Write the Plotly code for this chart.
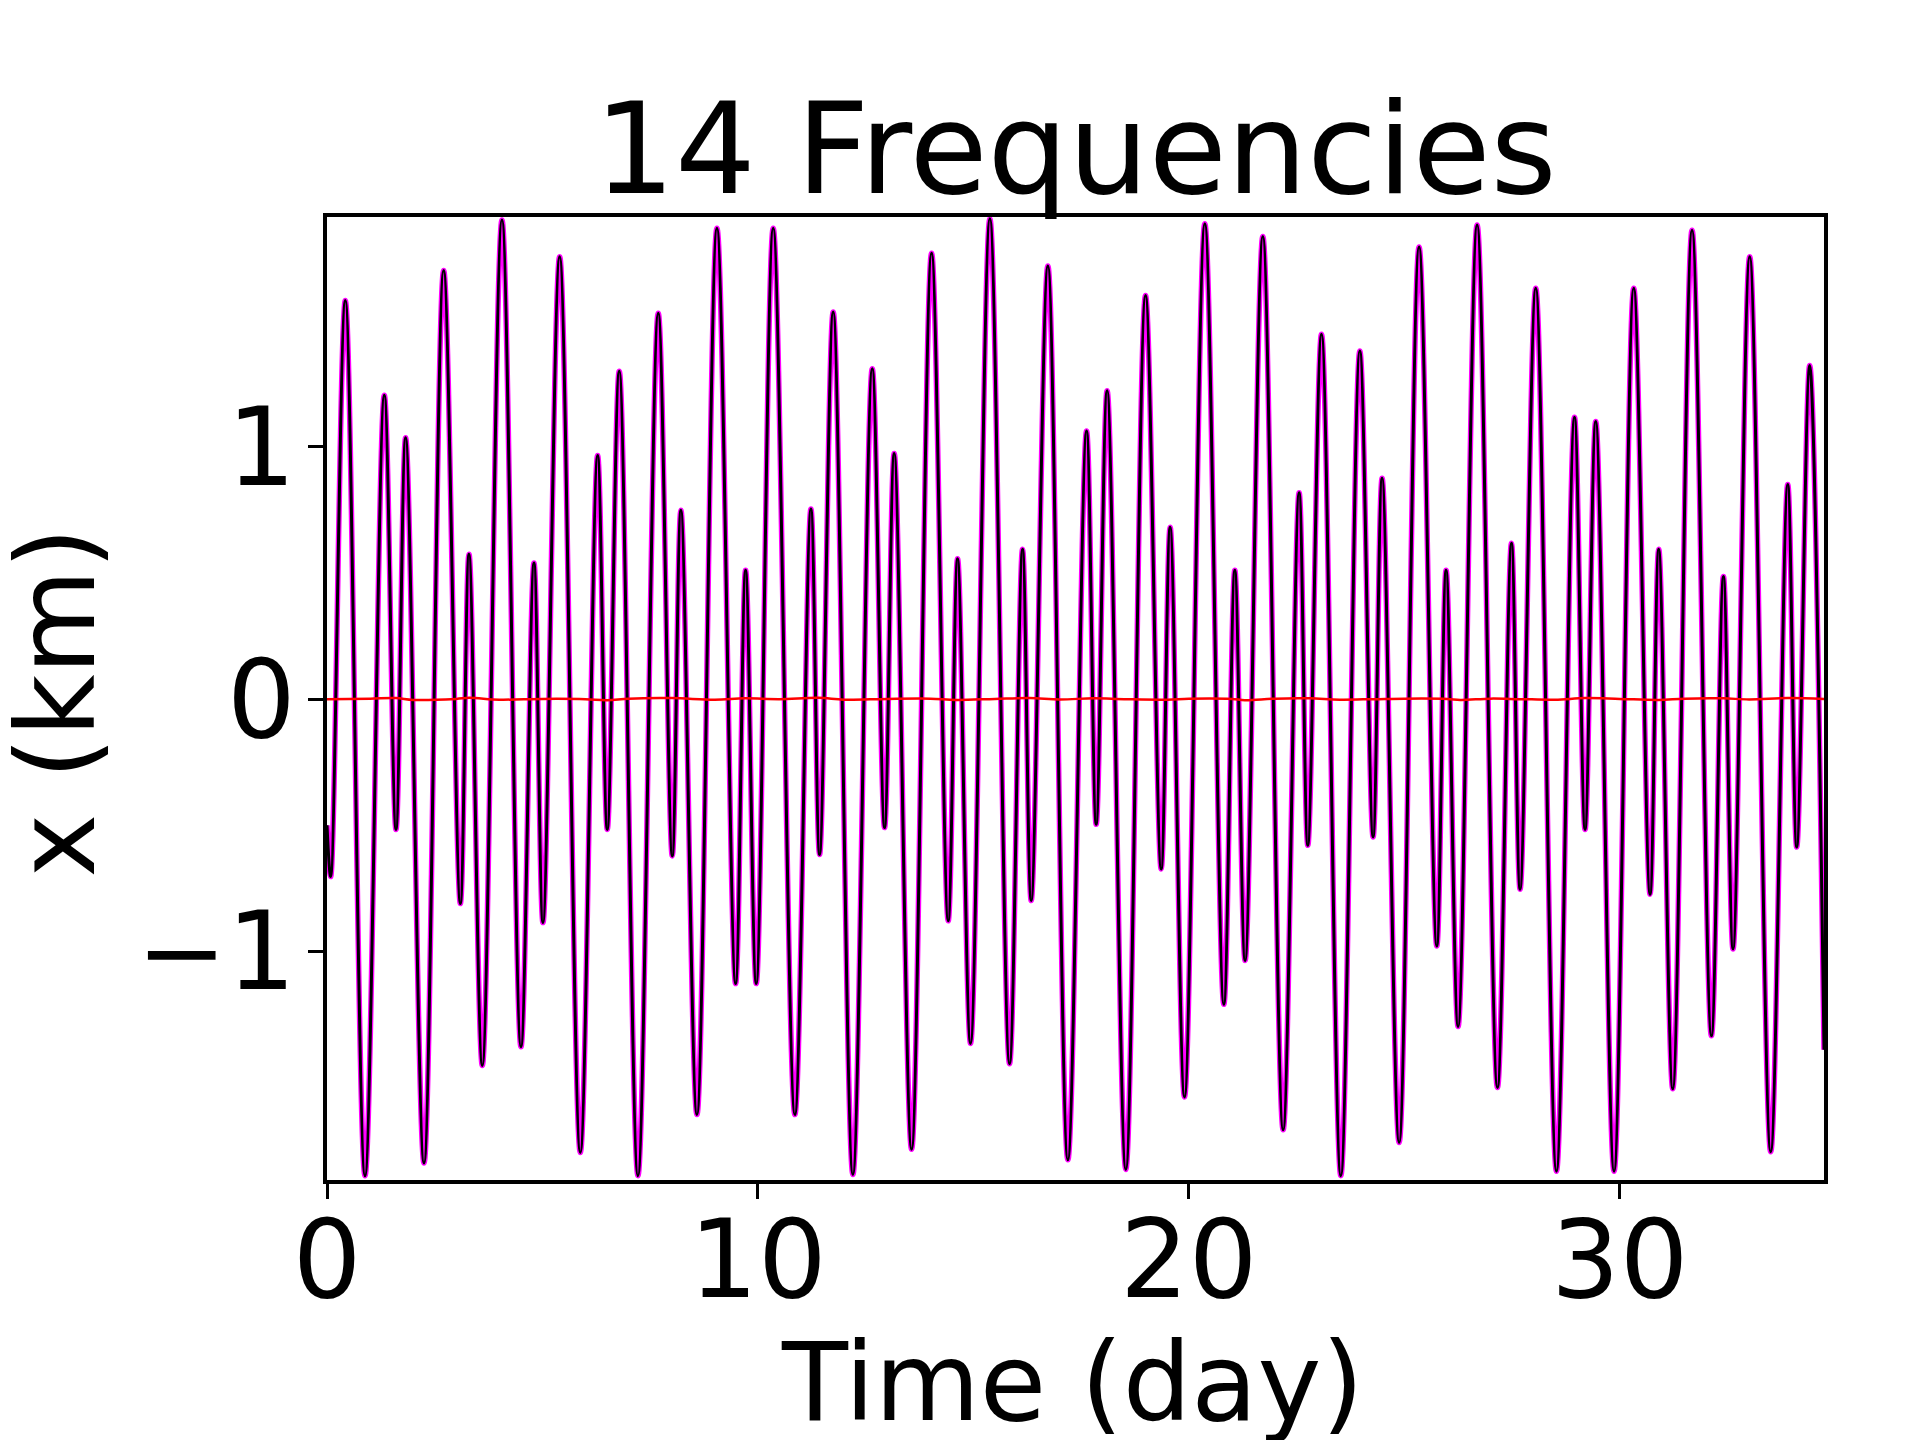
import plotly.graph_objects as go

# Extrema (peaks/troughs) of the signal
t_ext = [0.0, 0.085, 0.425, 0.882, 1.330, 1.601, 1.825, 2.251, 2.707, 3.094,
         3.295, 3.604, 4.060, 4.501, 4.803, 5.012, 5.399, 5.878, 6.280, 6.504,
         6.782, 7.216, 7.687, 8.012, 8.213, 8.585, 9.049, 9.482, 9.714, 9.961,
         10.355, 10.858, 11.230, 11.431, 11.747, 12.204, 12.653, 12.939, 13.163, 13.566,
         14.030, 14.416, 14.633, 14.934, 15.383, 15.839, 16.141, 16.342, 16.729, 17.193,
         17.626, 17.850, 18.104, 18.538, 18.995, 19.358, 19.566, 19.900, 20.371, 20.812,
         21.067, 21.306, 21.717, 22.188, 22.559, 22.761, 23.079, 23.527, 23.968, 24.276,
         24.485, 24.880, 25.343, 25.754, 25.970, 26.249, 26.690, 27.162, 27.487, 27.687,
         28.051, 28.531, 28.949, 29.195, 29.443, 29.868, 30.325, 30.703, 30.905, 31.230,
         31.678, 32.127, 32.406, 32.629, 33.016, 33.503, 33.898, 34.107, 34.408, 34.74]
x_ext = [-0.50, -0.703, 1.579, -1.888, 1.204, -0.516, 1.035, -1.838, 1.698, -0.810,
         0.574, -1.451, 1.898, -1.377, 0.539, -0.885, 1.753, -1.796, 0.965, -0.516,
         1.299, -1.888, 1.529, -0.621, 0.748, -1.646, 1.865, -1.127, 0.511, -1.127,
         1.865, -1.646, 0.753, -0.616, 1.534, -1.883, 1.309, -0.509, 0.973, -1.783,
         1.766, -0.878, 0.556, -1.364, 1.903, -1.444, 0.594, -0.798, 1.716, -1.825,
         1.062, -0.496, 1.222, -1.863, 1.599, -0.673, 0.681, -1.576, 1.883, -1.209,
         0.511, -1.035, 1.833, -1.706, 0.818, -0.579, 1.446, -1.888, 1.379, -0.546,
         0.875, -1.756, 1.791, -0.978, 0.511, -1.297, 1.878, -1.539, 0.618, -0.753,
         1.628, -1.870, 1.117, -0.516, 1.100, -1.870, 1.628, -0.773, 0.594, -1.544,
         1.858, -1.334, 0.486, -0.990, 1.753, -1.793, 0.850, -0.586, 1.322, -1.389]

# Residual (red) line, small wiggles around zero
t_res = [0.0, 1.0, 1.6, 2.0, 3.0, 3.3, 4.0, 5.0, 6.0, 6.5, 7.0, 8.0, 9.0, 9.7,
         10.5, 11.4, 12.0, 13.0, 14.0, 14.6, 15.5, 16.3, 17.0, 17.8, 18.5, 19.5,
         20.0, 21.0, 21.3, 22.0, 22.8, 23.5, 24.3, 25.0, 26.0, 26.3, 27.0, 27.7,
         28.5, 29.2, 30.0, 30.9, 31.5, 32.4, 33.0, 33.9, 34.74]
x_res = [0.0, 0.002, 0.004, -0.003, 0.001, 0.005, -0.002, 0.001, 0.000, -0.004,
         0.002, 0.004, -0.002, 0.003, 0.000, 0.005, -0.002, 0.001, 0.002, -0.003,
         0.001, 0.004, -0.001, 0.003, 0.000, -0.002, 0.002, 0.001, -0.004, 0.002,
         0.003, -0.002, 0.000, 0.002, 0.001, -0.003, 0.002, 0.000, -0.002, 0.004,
         0.001, -0.003, 0.002, 0.003, -0.001, 0.004, 0.001]

x_ticks = [0, 10, 20, 30]
y_ticks = [-1, 0, 1]

FONT = "DejaVu Sans"
W, H = 1920, 1440
ML, MR, MT, MB = 327, 96, 217, 260
PW, PH = W - ML - MR, H - MT - MB

fig = go.Figure()
fig.add_trace(go.Scatter(x=t_ext, y=x_ext, mode="lines",
                         line=dict(color="#ff00ff", width=5.5, shape="spline", smoothing=1),
                         showlegend=False))
fig.add_trace(go.Scatter(x=t_ext, y=x_ext, mode="lines",
                         line=dict(color="black", width=3, shape="spline", smoothing=1),
                         showlegend=False))
fig.add_trace(go.Scatter(x=t_res, y=x_res, mode="lines",
                         line=dict(color="red", width=2.5, shape="spline"),
                         showlegend=False))

fig.update_layout(
    width=W, height=H,
    margin=dict(l=ML, r=MR, t=MT, b=MB),
    paper_bgcolor="white", plot_bgcolor="white",
    font=dict(family=FONT, color="black"),
    title=dict(text="14 Frequencies", font=dict(family=FONT, size=127, color="black"),
               x=0.5, xref="paper", xanchor="center",
               y=1 - 193 / H, yref="container", yanchor="bottom"),
)
fig.update_xaxes(range=[0, 34.74], tickvals=x_ticks, ticks="outside", ticklen=15,
                 tickwidth=3, tickcolor="black", showline=True, linewidth=3.5,
                 linecolor="black", mirror=True, showgrid=False, zeroline=False,
                 tickfont=dict(family=FONT, size=108), ticklabelstandoff=-31,
                 automargin=False)
fig.update_yaxes(range=[-1.905, 1.91], tickvals=y_ticks, ticks="outside", ticklen=15,
                 tickwidth=3, tickcolor="black", showline=True, linewidth=3.5,
                 linecolor="black", mirror=True, showgrid=False, zeroline=False,
                 tickfont=dict(family=FONT, size=108), ticklabelstandoff=-9,
                 automargin=False)

# Axis titles
fig.add_annotation(text="Time (day)", xref="paper", yref="paper",
                   x=(1072 - ML) / PW, y=(H - MB - 1318) / PH,
                   xanchor="center", yanchor="top", showarrow=False,
                   font=dict(family=FONT, size=108, color="black"))
fig.add_annotation(text="x (km)", xref="paper", yref="paper",
                   x=(120 - ML) / PW, y=(H - MB - 702) / PH, textangle=-90,
                   xanchor="right", yanchor="middle", showarrow=False,
                   font=dict(family=FONT, size=108, color="black"))

fig.write_html("out.html", config={"displayModeBar": False},
               post_script="document.body.style.margin='0';document.body.style.overflow='hidden';")
